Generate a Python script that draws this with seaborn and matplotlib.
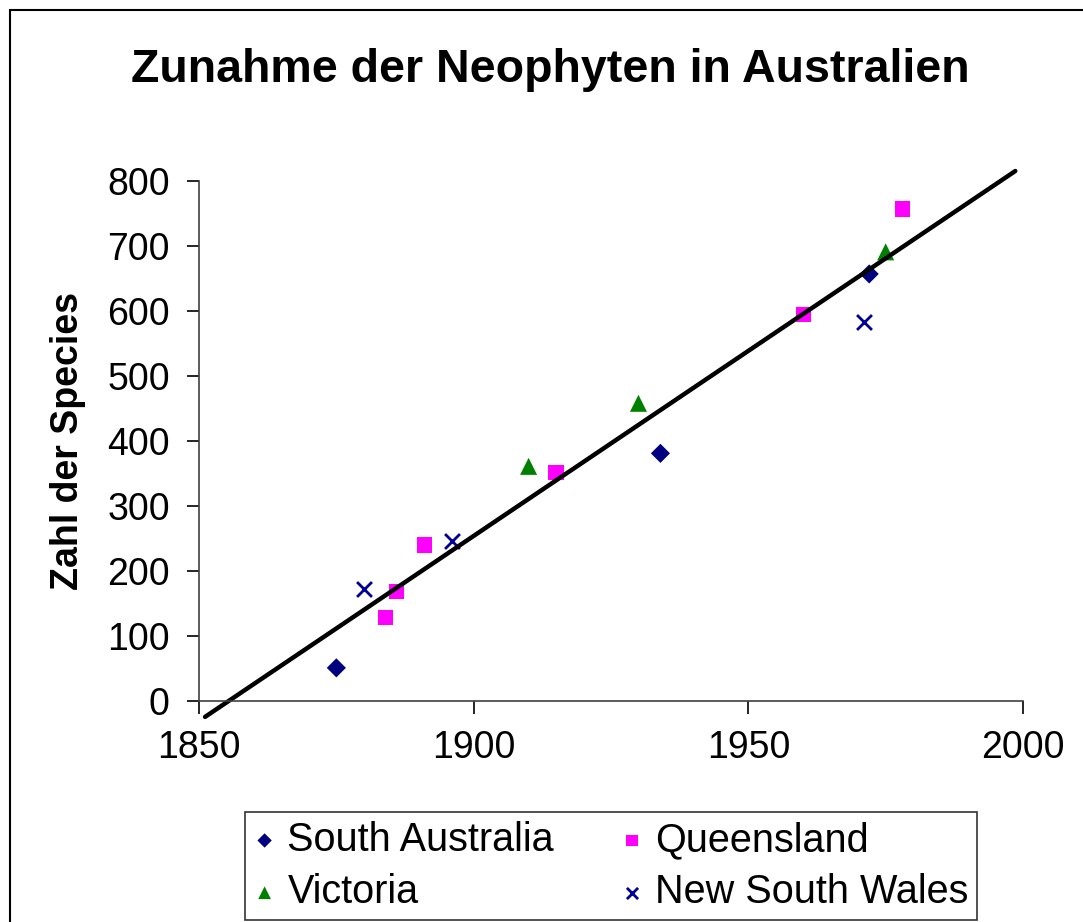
import numpy as np
import pandas as pd
import matplotlib
matplotlib.use("Agg")
import matplotlib.pyplot as plt
import seaborn as sns
from matplotlib.patches import Rectangle

# values
sa_year = [1875, 1934, 1972]
sa_species = [51, 381, 657]
qld_year = [1884, 1886, 1891, 1915, 1960, 1978]
qld_species = [129, 169, 240, 352, 595, 757]
vic_year = [1910, 1930, 1975]
vic_species = [361, 458, 691]
nsw_year = [1880, 1896, 1971]
nsw_species = [172, 246, 583]

series = [
    ("South Australia", sa_year, sa_species, "D", "#000080", 95),
    ("Queensland", qld_year, qld_species, "s", "#FF00FF", 120),
    ("Victoria", vic_year, vic_species, "^", "#008000", 150),
    ("New South Wales", nsw_year, nsw_species, "x", "#000099", 115),
]

sns.set_style("ticks")
plt.rcParams["font.family"] = ["Liberation Sans", "DejaVu Sans"]
plt.rcParams.update({"text.color": "black", "axes.labelcolor": "black",
                     "xtick.color": "black", "ytick.color": "black"})

fig = plt.figure(figsize=(10.83, 9.22), dpi=100)
ax = fig.add_axes([199 / 1083, 1 - 701 / 922, 824 / 1083, 520 / 922])

for name, xs, ys, marker, color, size in series:
    df = pd.DataFrame({"year": xs, "species": ys})
    kw = dict(linewidth=2) if marker == "x" else dict(edgecolor="none")
    sns.scatterplot(data=df, x="year", y="species", marker=marker, color=color,
                    s=size, label=name, ax=ax, **kw)

# linear trend over all points, extended like the Excel trendline
all_x = np.array(sa_year + qld_year + vic_year + nsw_year, dtype=float)
all_y = np.array(sa_species + qld_species + vic_species + nsw_species, dtype=float)
slope, icpt = np.polyfit(all_x, all_y, 1)
tx = np.array([1851.1, 1998.6])
ax.plot(tx, slope * tx + icpt, color="black", linewidth=3.2, clip_on=False, zorder=1)

ax.set_xlim(1850, 2000)
ax.set_ylim(0, 800)
ax.set_xticks([1850, 1900, 1950, 2000])
ax.set_yticks(range(0, 801, 100))
sns.despine(ax=ax)
for sp in ("left", "bottom"):
    ax.spines[sp].set_color("#404040")
    ax.spines[sp].set_linewidth(1.2)
ax.tick_params(axis="both", labelsize=27, length=9, width=1.2, color="black",
               labelcolor="black", pad=12)
ax.set_xlabel("")
ax.set_ylabel("Zahl der Species", fontsize=27, fontweight="bold", color="black")
ax.yaxis.set_label_coords(-0.137, 0.5)

fig.text(550 / 1083, 1 - 70 / 922, "Zunahme der Neophyten in Australien",
         fontsize=33.5, fontweight="bold", ha="center", va="center", color="black")

# row-major order like the reference: SA, Queensland / Victoria, NSW
handles, labels = ax.get_legend_handles_labels()
order = [0, 2, 1, 3]
leg = ax.legend([handles[i] for i in order], [labels[i] for i in order],
                loc="center", bbox_to_anchor=(611 / 1083, 1 - 866 / 922),
                bbox_transform=fig.transFigure, ncol=2, fontsize=28.5, frameon=True,
                fancybox=False, edgecolor="black", handlelength=0.55,
                handletextpad=0.3, columnspacing=1.7, labelspacing=0.36,
                borderpad=0.22, markerscale=0.75)
leg.get_frame().set_linewidth(1.2)
for t in leg.get_texts():
    t.set_color("black")

# outer chart border
fig.patches.append(Rectangle((10 / 1083, -0.1), 1.2, 1 - 10 / 922 + 0.1,
                             transform=fig.transFigure, fill=False,
                             edgecolor="black", linewidth=1.5))

fig.savefig("out.png", dpi=100)
